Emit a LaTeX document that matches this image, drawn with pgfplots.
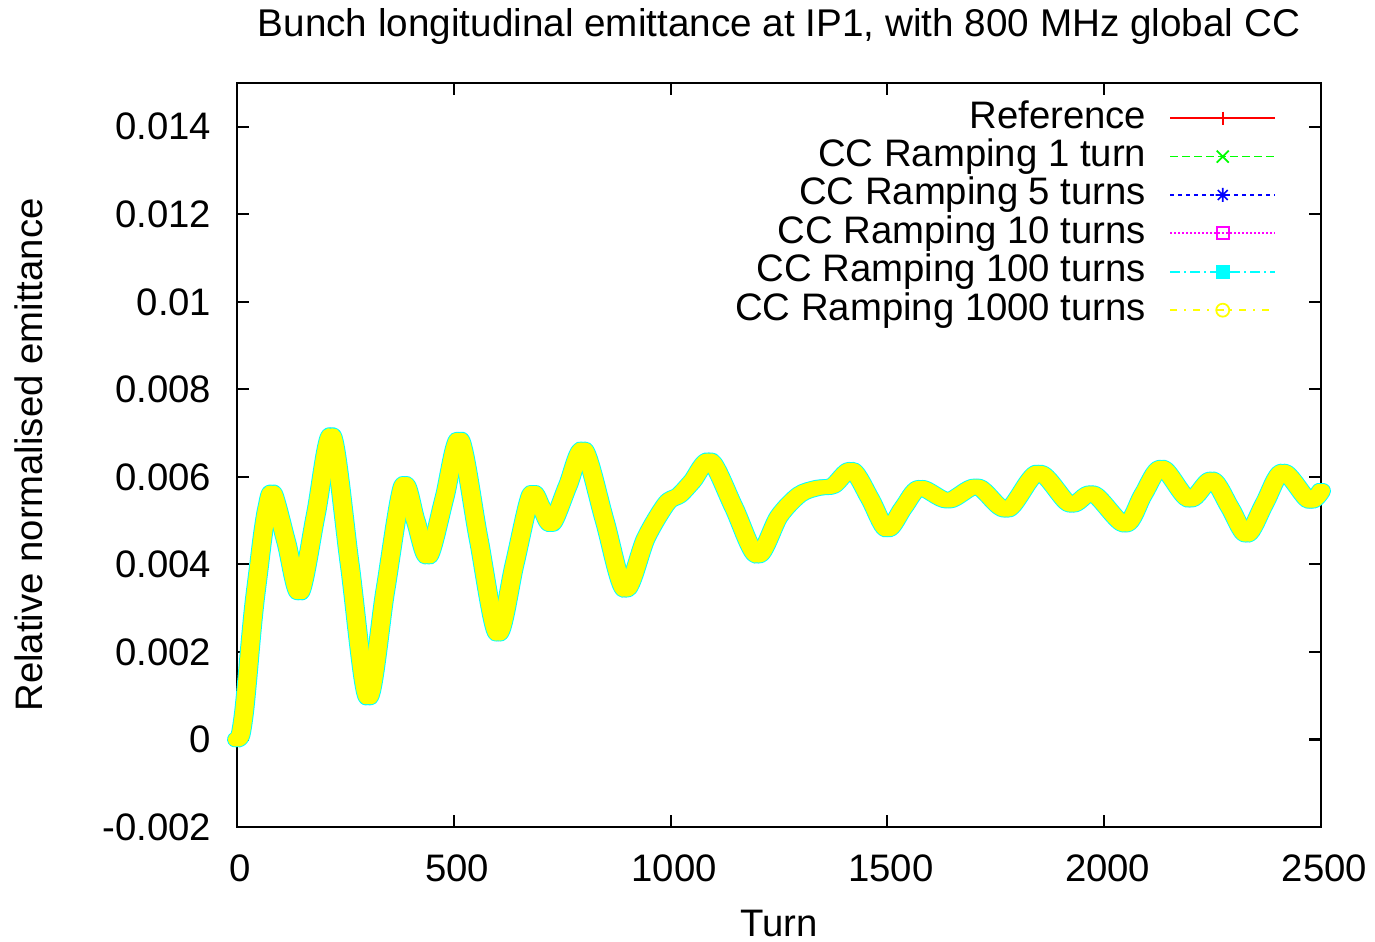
\documentclass[border=0pt]{standalone}
\usepackage{fontspec}
\setmainfont{Liberation Sans}
\usepackage{pgfplots}
\usepackage{pgfplotstable}
\pgfplotsset{compat=1.18}

\pgfdeclareplotmark{gstar}{%
  \pgfpathmoveto{\pgfqpoint{-\pgfplotmarksize}{0pt}}\pgfpathlineto{\pgfqpoint{\pgfplotmarksize}{0pt}}%
  \pgfpathmoveto{\pgfqpoint{0pt}{-\pgfplotmarksize}}\pgfpathlineto{\pgfqpoint{0pt}{\pgfplotmarksize}}%
  \pgfpathmoveto{\pgfqpoint{-.707\pgfplotmarksize}{-.707\pgfplotmarksize}}\pgfpathlineto{\pgfqpoint{.707\pgfplotmarksize}{.707\pgfplotmarksize}}%
  \pgfpathmoveto{\pgfqpoint{-.707\pgfplotmarksize}{.707\pgfplotmarksize}}\pgfpathlineto{\pgfqpoint{.707\pgfplotmarksize}{-.707\pgfplotmarksize}}%
  \pgfusepathqstroke}

\definecolor{gpmagenta}{RGB}{255,0,255}
\definecolor{gpcyan}{RGB}{0,255,255}
\definecolor{gpyellow}{RGB}{255,255,0}
\definecolor{gpgreen}{RGB}{0,255,0}

\pgfplotstableread{
turn emit
0 0.0000
8 0.0001
16 0.0006
24 0.0014
32 0.0023
40 0.0031
50 0.0039
60 0.0047
70 0.0053
83 0.00562
114 0.0045
145 0.00336
182 0.00515
219 0.00694
260 0.0040
302 0.00096
342 0.0034
383 0.0058
412 0.0050
441 0.00418
478 0.0055
514 0.00685
557 0.0046
601 0.00242
640 0.0040
678 0.00559
702 0.0053
726 0.00493
763 0.0058
800 0.00662
848 0.0050
895 0.00342
943 0.0046
991 0.0054
1020 0.00558
1050 0.0059
1092 0.00637
1146 0.0053
1200 0.0042
1250 0.0051
1298 0.0056
1340 0.00575
1375 0.0058
1418 0.00616
1460 0.0055
1499 0.0048
1537 0.0053
1575 0.00575
1640 0.00546
1707 0.00578
1776 0.00525
1848 0.0061
1921 0.00537
1974 0.00562
2048 0.00491
2090 0.0056
2133 0.00621
2196 0.00548
2248 0.00594
2290 0.0053
2329 0.00468
2370 0.0054
2412 0.00612
2472 0.00546
2500 0.00568
}\emit

\pgfplotsset{band/.style={forget plot, smooth, tension=0.5, line cap=round, line join=round}}

\begin{document}
\fontsize{10.9pt}{13pt}\selectfont
\begin{tikzpicture}
\begin{axis}[
  name=ax,
  scale only axis,
  width=10.84cm, height=7.44cm,
  xmin=0, xmax=2500, ymin=-0.002, ymax=0.015,
  clip=false,
  scaled y ticks=false, scaled x ticks=false,
  axis line style={line width=0.6pt},
  tick style={line width=0.6pt, black},
  tick align=inside,
  major tick length=0.12cm,
  xtick={0,500,1000,1500,2000,2500},
  xticklabels={0,500,1000,1500,2000,2500},
  ytick={-0.002,0,0.002,0.004,0.006,0.008,0.01,0.012,0.014},
  yticklabels={-0.002,0,0.002,0.004,0.006,0.008,0.01,0.012,0.014},
  /pgf/number format/assume math mode=true,
  xticklabel style={anchor=north, inner sep=0pt, yshift=-0.27cm, xshift=0.035cm},
  yticklabel style={anchor=east, inner sep=0pt, xshift=-0.25cm},
  every axis title shift=0pt,
  every axis title/.style={at={(0.5,1)}, anchor=base, yshift=0.46cm, font=\fontsize{11pt}{13pt}\selectfont},
  every axis x label/.style={at={(0.5,0)}, anchor=base, yshift=-1.09cm},
  every axis y label/.style={at={(0,0.5)}, rotate=90, anchor=base, yshift=1.94cm},
  title={Bunch longitudinal emittance at IP1, with 800 MHz global CC},
  xlabel={Turn},
  ylabel={Relative normalised emittance},
  legend cell align=right,
  legend plot pos=right,
  legend image code/.code={\draw[mark repeat=2,mark phase=2,#1] plot coordinates {(0cm,0cm) (0.525cm,0cm) (1.05cm,0cm)};},
  legend style={draw=none, fill=none, at={(1,1)}, anchor=north east, xshift=-0.44cm, yshift=-0.185cm,
    inner sep=0pt, column sep=0.23cm, row sep=0.064cm,
    nodes={inner sep=0pt, text height=0.26cm, text depth=0.06cm}},
]
\addlegendimage{red, line width=0.5pt, mark=+, mark size=0.065cm, mark options={solid}}
\addlegendentry{Reference}
\addlegendimage{gpgreen, line width=0.5pt, dash pattern=on 0.08cm off 0.04cm, mark=x, mark size=0.085cm, mark options={solid}}
\addlegendentry{CC Ramping 1 turn}
\addlegendimage{blue, line width=0.5pt, dash pattern=on 0.04cm off 0.04cm, mark=gstar, mark size=0.07cm, mark options={solid}}
\addlegendentry{CC Ramping 5 turns}
\addlegendimage{gpmagenta, line width=0.6pt, dash pattern=on 0.02cm off 0.02cm, mark=square, mark size=0.06cm, mark options={solid}}
\addlegendentry{CC Ramping 10 turns}
\addlegendimage{gpcyan, line width=0.5pt, dash pattern=on 0.1cm off 0.04cm on 0.02cm off 0.04cm, mark=square*, mark size=0.06cm, mark options={solid}}
\addlegendentry{CC Ramping 100 turns}
\addlegendimage{gpyellow, line width=0.5pt, dash pattern=on 0.07cm off 0.07cm on 0.02cm off 0.07cm, mark=o, mark size=0.065cm, mark options={solid}}
\addlegendentry{CC Ramping 1000 turns}

\addplot[band, red, line width=3.9pt] table[x=turn, y=emit] {\emit};
\addplot[band, gpgreen, line width=3.9pt] table[x=turn, y=emit] {\emit};
\addplot[band, blue, line width=3.9pt] table[x=turn, y=emit] {\emit};
\addplot[band, gpmagenta, line width=4.3pt] table[x=turn, y=emit] {\emit};
\addplot[band, gpcyan, line width=4.5pt, xshift=-0.02cm] table[x=turn, y=emit] {\emit};
\addplot[band, gpcyan, line width=4.5pt, xshift=0.02cm] table[x=turn, y=emit] {\emit};
\addplot[band, gpyellow, line width=3.95pt, xshift=-0.02cm] table[x=turn, y=emit] {\emit};
\addplot[band, gpyellow, line width=3.95pt, xshift=0.02cm] table[x=turn, y=emit] {\emit};
\end{axis}
\pgfresetboundingbox
\path[use as bounding box] ([xshift=-2.37cm, yshift=-1.14cm]ax.south west) rectangle ([xshift=0.54cm, yshift=0.83cm]ax.north east);
\end{tikzpicture}
\end{document}
